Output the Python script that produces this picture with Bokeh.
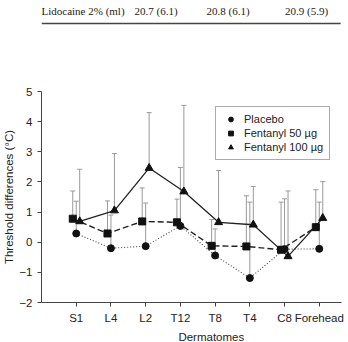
import numpy as np
from bokeh.plotting import figure
from bokeh.models import (Range1d, FixedTicker, Whisker, ColumnDataSource,
                          Legend, LegendItem, TeeHead)
from bokeh.layouts import column
from bokeh.embed import file_html
from bokeh.resources import INLINE
from bokeh.core.properties import value

# ---------------- data ----------------
categories = ["S1", "L4", "L2", "T12", "T8", "T4", "C8", "Forehead"]

placebo = [0.29, -0.20, -0.13, 0.54, -0.44, -1.19, -0.23, -0.22]
placebo_upper = [1.36, 0.90, 1.30, 2.48, 0.44, 1.33, 1.44, 1.33]

fentanyl50 = [0.78, 0.29, 0.69, 0.66, -0.12, -0.14, -0.25, 0.50]
fentanyl50_upper = [1.70, 1.37, 1.80, 1.43, 0.75, 1.54, 1.33, 1.74]

fentanyl100 = [0.69, 1.05, 2.46, 1.68, 0.66, 0.58, -0.47, 0.80]
fentanyl100_upper = [2.42, 2.94, 4.30, 4.54, 2.38, 1.85, 1.70, 2.01]

series_names = ["Placebo", "Fentanyl 50 \u00b5g", "Fentanyl 100 \u00b5g"]

y_ticks = [-2, -1, 0, 1, 2, 3, 4, 5]

header_texts = ["Lidocaine 2% (ml)", "20.7 (6.1)", "20.8 (6.1)", "20.9 (5.9)"]

x_title = "Dermatomes"
y_title = "Threshold differences (\u00b0C)"

FONT = "Liberation Sans"
TXT = "#222222"


def strip(h):
    f = figure(width=348, height=h, x_range=Range1d(0, 348), y_range=Range1d(h, 0),
               x_axis_location=None, y_axis_location=None, toolbar_location=None,
               output_backend="svg", min_border=0, outline_line_color=None, title=None)
    f.xgrid.visible = False
    f.ygrid.visible = False
    return f


# ---------------- header (table row fragment) ----------------
hdr = strip(30)
hdr.text(x=[0, 108, 191.5, 282.5], y=[10] * 4, text=header_texts,
         text_font=value("Liberation Serif"), text_font_size="11px",
         text_baseline="middle", text_align="left", text_color=TXT)
hdr.line(x=[0, 347], y=[23, 23], line_color="#444444", line_width=1.5)

# ---------------- main chart ----------------
p = figure(width=348, height=300, x_range=Range1d(0, 8.64), y_range=Range1d(-2, 5),
           toolbar_location=None, output_backend="svg", title=None,
           min_border_left=39, min_border_right=7, min_border_top=61,
           min_border_bottom=28, outline_line_color=None)
p.xgrid.visible = False
p.ygrid.visible = False

xs = np.arange(1, len(categories) + 1)
offsets = [0.0, -0.1, 0.1]
values = [placebo, fentanyl50, fentanyl100]
uppers = [placebo_upper, fentanyl50_upper, fentanyl100_upper]
markers = ["circle", "square", "triangle"]
sizes = [7, 7, 8]
dashes = ["1 2", "6 3", "solid"]
lwidths = [1.1, 1.4, 1.3]
lcolors = ["#444444", "#222222", "#222222"]

scatter_renderers = []
for off, vals, ups in zip(offsets, values, uppers):
    src = ColumnDataSource(dict(x=xs + off, y=vals, up=ups))
    w = Whisker(base="x", lower="y", upper="up", dimension="height", source=src,
                line_color="#999999", line_width=1, level="underlay",
                upper_head=TeeHead(size=5, line_color="#999999", line_width=1),
                lower_head=None)
    p.add_layout(w)

for off, vals, dash, lw, lc in zip(offsets, values, dashes, lwidths, lcolors):
    p.line(x=xs + off, y=vals, line_color=lc, line_width=lw, line_dash=dash)

for off, vals, mk, sz in zip(offsets, values, markers, sizes):
    r = p.scatter(x=xs + off, y=vals, marker=mk, size=sz,
                  fill_color="#111111", line_color="#111111")
    scatter_renderers.append(r)

# axes
p.xaxis.ticker = FixedTicker(ticks=list(xs))
p.xaxis.major_label_overrides = {int(i): c for i, c in zip(xs, categories)}
p.yaxis.ticker = FixedTicker(ticks=y_ticks)
p.yaxis.major_label_overrides = {t: (("\u2212" + str(-t)) if t < 0 else str(t)) for t in y_ticks}

p.yaxis.axis_label = y_title
for ax in (p.xaxis[0], p.yaxis[0]):
    ax.axis_line_color = "#444444"
    ax.major_tick_line_color = "#444444"
    ax.major_tick_out = 4
    ax.major_tick_in = 0
    ax.minor_tick_line_color = None
    ax.major_label_text_font = FONT
    ax.major_label_text_font_size = "11.5px"
    ax.major_label_text_color = TXT
    ax.axis_label_text_font = FONT
    ax.axis_label_text_font_size = "11.5px"
    ax.axis_label_text_font_style = "normal"
    ax.axis_label_text_color = TXT
p.xaxis.major_label_standoff = 5
p.yaxis.major_label_standoff = 5
p.yaxis.axis_label_standoff = 1

legend = Legend(items=[LegendItem(label=n, renderers=[r])
                       for n, r in zip(series_names, scatter_renderers)],
                location=(174, 142), label_text_font=FONT, label_text_font_size="11px",
                label_text_color=TXT, glyph_height=12, glyph_width=17, label_height=12,
                label_standoff=5, padding=6, spacing=2, margin=0,
                border_line_color="#555555", border_line_width=1,
                background_fill_color="white", background_fill_alpha=1)
p.add_layout(legend)

# ---------------- x-axis title strip ----------------
ftr = strip(12)
ftr.text(x=[197], y=[6.5], text=[x_title], text_font=value(FONT),
         text_font_size="11.5px", text_baseline="middle", text_align="center",
         text_color=TXT)

layout = column(hdr, p, ftr, spacing=0)
open("out.html", "w").write(file_html(layout, INLINE))
